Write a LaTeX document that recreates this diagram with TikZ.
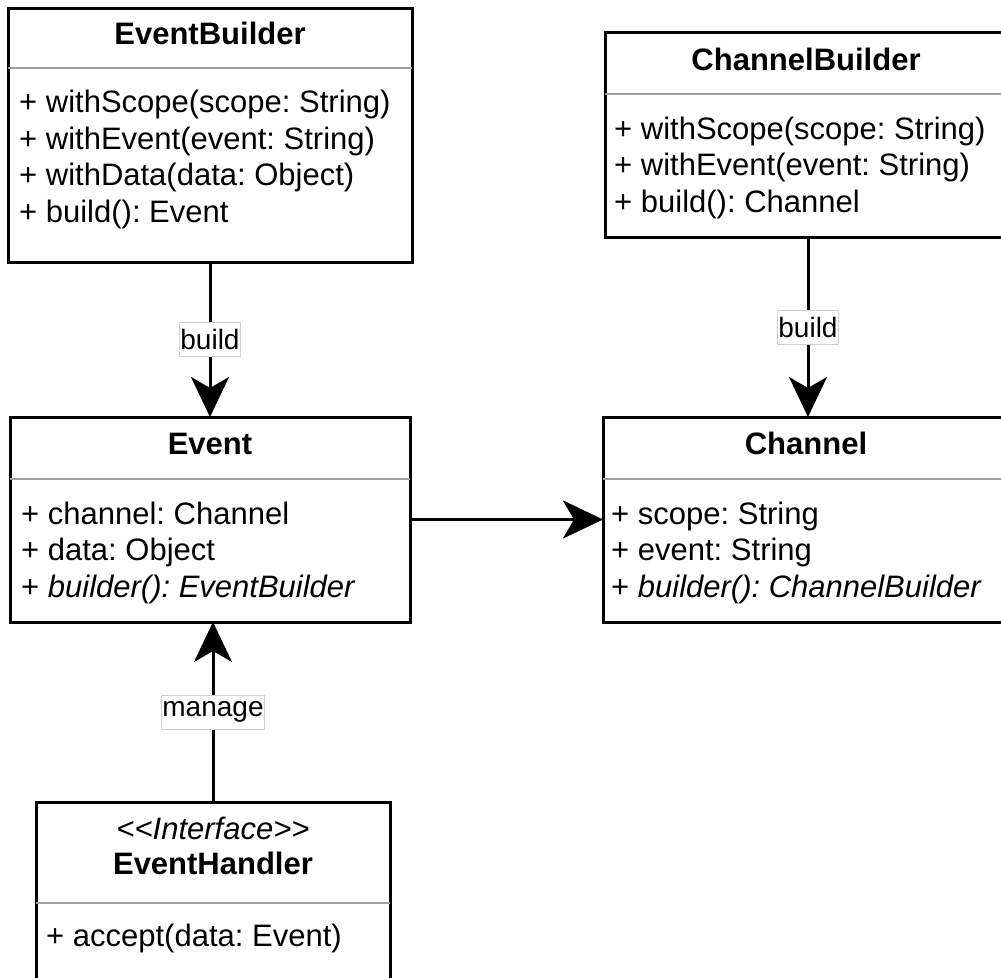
\documentclass[tikz,border=0pt]{standalone}
\usepackage{fontspec}
\setmainfont{Liberation Sans}
\usetikzlibrary{arrows.meta}
\definecolor{sepgray}{HTML}{A0A0A0}
\definecolor{lblgray}{HTML}{D0D0D0}
\begin{document}
\frenchspacing
\begin{tikzpicture}[x=1pt,y=-1pt,
  umlbox/.style={draw=black, line width=3pt, fill=white, anchor=north west, inner sep=0pt, outer sep=0pt},
  sepline/.style={draw=sepgray, line width=2pt},
  ttl/.style={font=\bfseries\fontsize{31}{36}\selectfont, anchor=base, inner sep=0pt},
  stereo/.style={font=\itshape\fontsize{31}{36}\selectfont, anchor=base, inner sep=0pt},
  attr/.style={font=\fontsize{31}{36}\selectfont, anchor=base west, inner sep=0pt},
  lbl/.style={fill=white, draw=lblgray, line width=0.8pt, font=\fontsize{28}{32}\selectfont, inner xsep=1.2pt, inner ysep=0pt, minimum height=34pt},
  conn/.style={line width=3pt, -{Stealth[length=40pt,width=38pt,inset=11pt]}}
]
\useasboundingbox (0,0) rectangle (1001,977);
\clip (0,0) rectangle (1001,977);

% EventBuilder
\node[umlbox, minimum width=404pt, minimum height=254pt] (eb) at (8,8) {};
\node[ttl] (ebt) at (210,44) {EventBuilder};
\draw[sepline] (eb.west |- 0,68) -- (eb.east |- 0,68);
\node[attr] (eb1) at (19,112.5) {+ withScope(scope: String)};
\node[attr] (eb2) at (19,149.2) {+ withEvent(event: String)};
\node[attr] (eb3) at (19,185.9) {+ withData(data: Object)};
\node[attr] (eb4) at (19,222.6) {+ build(): Event};

% ChannelBuilder
\node[umlbox, minimum width=406pt, minimum height=205pt] (cb) at (605,32) {};
\node[ttl] (cbt) at (806,70) {ChannelBuilder};
\draw[sepline] (cb.west |- 0,94) -- (cb.east |- 0,94);
\node[attr] (cb1) at (614,139) {+ withScope(scope: String)};
\node[attr] (cb2) at (614,175.7) {+ withEvent(event: String)};
\node[attr] (cb3) at (614,212.4) {+ build(): Channel};

% Event
\node[umlbox, minimum width=400pt, minimum height=205pt] (ev) at (10,417) {};
\node[ttl] (evt) at (210,454) {Event};
\draw[sepline] (ev.west |- 0,479) -- (ev.east |- 0,479);
\node[attr] (ev1) at (21,524) {+ channel: Channel};
\node[attr] (ev2) at (21,560.5) {+ data: Object};
\node[attr] (ev3) at (21,597) {+ \textit{builder(): EventBuilder}};

% Channel
\node[umlbox, minimum width=410pt, minimum height=205pt] (ch) at (603,417) {};
\node[ttl] (cht) at (806,454) {Channel};
\draw[sepline] (ch.west |- 0,479) -- (ch.east |- 0,479);
\node[attr] (ch1) at (611,524) {+ scope: String};
\node[attr] (ch2) at (611,560.5) {+ event: String};
\node[attr] (ch3) at (611,597) {+ \textit{builder(): ChannelBuilder}};

% EventHandler
\node[umlbox, minimum width=354pt, minimum height=208pt] (eh) at (36,802) {};
\node[stereo] (ehs) at (213,839) {<\kern0pt<Interface>\kern0pt>};
\node[ttl] (eht) at (213,874) {EventHandler};
\draw[sepline] (eh.west |- 0,903) -- (eh.east |- 0,903);
\node[attr] (eh1) at (46,946) {+ accept(data: Event)};

% connectors
\draw[conn] (eb.south) -- node[lbl, pos=0.5] (l1) {build} (ev.north);
\draw[conn] (cb.south) -- node[lbl, pos=0.5] (l2) {build} (ch.north);
\draw[conn] (ev.east) -- (ch.west);
\draw[conn] (eh.north) -- node[lbl, pos=0.5] (l3) {manage} (eh.north |- ev.south);
\end{tikzpicture}
\end{document}
